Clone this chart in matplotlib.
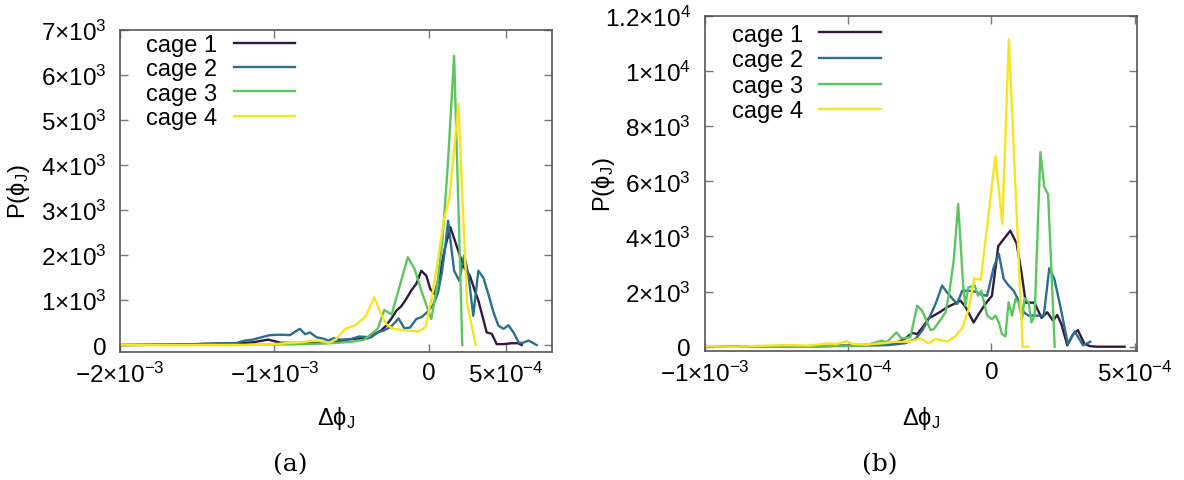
import numpy as np
import matplotlib.pyplot as plt

plt.rcParams['font.family'] = ['Liberation Sans', 'DejaVu Sans']
plt.rcParams['mathtext.fontset'] = 'custom'
plt.rcParams['mathtext.rm'] = 'Liberation Sans'
plt.rcParams['mathtext.it'] = 'Liberation Sans:italic'

# x in units of 1e-4, P in units of 1e3
# ---- panel (a) ----
c1a_x = [-20, -17, -15, -13, -11.4, -10.4, -9.6, -7.9, -6.3, -5.3, -4.4, -3.96, -3.52, -3.09, -2.76,
         -2.43, -2.1, -1.78, -1.46, -1.13, -0.8, -0.48, -0.15, 0.11, 0.39, 0.72, 1.04, 1.4, 1.7, 2.02,
         2.35, 2.67, 2.96, 3.22, 3.48, 3.76, 4.09, 4.41, 4.85, 5.39, 5.8, 6.03]
c1a_y = [0.0, 0.01, 0.02, 0.03, 0.06, 0.12, 0.05, 0.04, 0.05, 0.12, 0.15, 0.15, 0.24, 0.32, 0.43,
         0.58, 0.76, 0.86, 1.02, 1.21, 1.36, 1.65, 1.54, 1.24, 1.13, 1.58, 2.13, 2.62, 2.32, 1.99,
         1.69, 1.54, 1.24, 0.99, 0.65, 0.28, 0.25, 0.02, 0.02, 0.04, 0.04, 0.0]

c2a_x = [-20, -16, -13.6, -12.5, -11.9, -11.4, -10.85, -10.3, -9.65, -9.0, -8.35, -8.0, -7.7, -7.25,
         -6.8, -6.5, -6.17, -5.73, -5.08, -4.5, -3.74, -3.3, -2.87, -2.43, -1.95, -1.57, -1.2, -0.8,
         -0.45, -0.04, 0.3, 0.6, 0.85, 1.05, 1.26, 1.65, 1.98, 2.3, 2.57, 2.89, 3.22, 3.54, 3.87, 4.2,
         4.52, 4.85, 5.17, 5.5, 5.83, 6.03, 6.47, 7.0]
c2a_y = [0.0, 0.01, 0.04, 0.04, 0.1, 0.12, 0.17, 0.22, 0.23, 0.22, 0.36, 0.24, 0.28, 0.17,
         0.14, 0.1, 0.15, 0.12, 0.13, 0.19, 0.17, 0.28, 0.33, 0.41, 0.59, 0.37, 0.39, 0.58,
         0.62, 0.75, 0.9, 1.15, 1.6, 2.1, 2.76, 1.65, 1.43, 1.99, 1.58, 0.65, 1.65, 1.5, 1.13, 0.73,
         0.43, 0.36, 0.44, 0.28, 0.06, 0.04, 0.1, 0.0]

c3a_x = [-20, -16, -13, -10, -8, -6.35, -5.04, -4.17, -3.74, -3.3, -2.88, -2.4, -1.35, -0.91,
         -0.48, -0.1, 0.17, 0.55, 0.9, 1.24, 1.65, 2.18]
c3a_y = [0.0, 0.0, 0.0, 0.01, 0.02, 0.04, 0.07, 0.12, 0.24, 0.36, 0.78, 0.68, 1.95, 1.69,
         1.21, 0.84, 0.58, 1.32, 2.36, 3.99, 6.43, 0.0]

c4a_x = [-20, -15, -12, -10.3, -9.3, -8.3, -7.25, -6.4, -6.0, -5.4, -4.8, -4.07, -3.52, -3.09,
         -2.76, -2.33, -1.78, -1.24, -0.7, -0.22, 0.17, 0.61, 1.0, 1.35, 1.93, 2.48, 3.05]
c4a_y = [0.0, 0.0, 0.0, 0.01, 0.04, 0.06, 0.1, 0.05, 0.13, 0.36, 0.43, 0.64, 1.06, 0.69,
         0.47, 0.36, 0.34, 0.32, 0.3, 0.39, 0.99, 1.91, 2.8, 3.26, 5.36, 0.95, 0.0]

# ---- panel (b) ----
c1b_x = [-10, -8, -6, -5, -4.51, -3.81, -3.35, -3.0, -2.77, -2.59, -2.36, -2.19, -2.01, -1.78,
         -1.55, -1.31, -1.08, -0.91, -0.62, -0.44, -0.21, 0.02, 0.24, 0.66, 0.88, 1.05, 1.2, 1.5,
         1.75, 1.95, 2.15, 2.3, 2.45, 2.65, 2.85, 3.02, 3.25, 3.45, 3.7, 4.65]
c1b_y = [0.0, 0.01, 0.02, 0.05, 0.06, 0.1, 0.13, 0.3, 0.5, 0.46, 0.76, 1.03, 1.13, 1.27,
         1.43, 1.55, 1.67, 1.46, 0.88, 1.19, 1.55, 1.85, 3.65, 4.21, 3.75, 2.7, 1.6, 1.6,
         1.05, 1.25, 0.95, 1.15, 0.8, 0.05, 0.45, 0.6, 0.1, 0.02, 0.0, 0.0]

c2b_x = [-10, -8, -6, -5, -4.51, -3.58, -3.0, -2.65, -2.42, -2.19, -1.95, -1.72, -1.55, -1.37,
         -1.2, -1.02, -0.79, -0.56, -0.33, -0.15, 0.08, 0.26, 0.43, 0.6, 0.78, 0.95, 1.13, 1.3,
         1.53, 1.83, 2.02, 2.2, 2.4, 2.67, 2.91, 3.2, 3.45]
c2b_y = [0.0, 0.01, 0.02, 0.03, 0.04, 0.06, 0.13, 0.28, 0.58, 1.0, 1.55, 2.22, 1.97, 1.76,
         1.55, 2.03, 2.03, 2.0, 1.88, 1.85, 2.88, 3.37, 2.46, 2.22, 2.03, 1.67, 1.25, 1.13,
         1.13, 1.13, 2.85, 2.45, 1.5, 0.1, 0.55, 0.05, 0.18]

c3b_x = [-10, -8, -6.16, -5.3, -4.42, -3.84, -3.66, -3.31, -3.14, -2.83, -2.59, -2.42, -2.24,
         -2.12, -2.01, -1.84, -1.6, -1.47, -1.31, -1.16, -0.99, -0.91, -0.81, -0.58, -0.47, -0.35,
         -0.15, 0.02, 0.14, 0.26, 0.37, 0.49, 0.6, 0.72, 0.84, 0.95, 1.07, 1.16, 1.3, 1.4, 1.51,
         1.71, 1.85, 1.98, 2.21]
c3b_y = [0.0, 0.0, 0.0, 0.04, 0.04, 0.22, 0.16, 0.52, 0.3, 0.34, 1.49, 1.31, 0.88,
         0.6, 0.64, 0.88, 1.25, 1.97, 3.18, 5.18, 2.28, 1.49, 2.15, 2.22, 1.85, 2.03,
         1.13, 1.0, 1.13, 0.88, 0.46, 0.38, 1.61, 1.13, 1.73, 1.61, 1.0, 1.76, 1.61, 0.88, 1.13,
         7.06, 5.78, 5.52, 0.0]

c4b_x = [-10, -9, -7.2, -6.4, -5.7, -5.4, -5.05, -4.85, -4.37, -3.83, -3.55, -3.35, -2.88, -2.47,
         -2.2, -1.95, -1.55, -1.26, -1.02, -0.79, -0.6, -0.37, 0.14, 0.38, 0.61, 1.09, 1.3]
c4b_y = [0.02, 0.0, 0.06, 0.04, 0.12, 0.1, 0.2, 0.1, 0.08, 0.12, 0.15, 0.18, 0.18, 0.3,
         0.12, 0.28, 0.19, 0.38, 0.67, 1.37, 2.48, 2.43, 6.91, 4.45, 11.15, 0.0, 0.0]

labels = ['cage 1', 'cage 2', 'cage 3', 'cage 4']
colors = ['#32193f', '#2b6f8e', '#5cc65e', '#f9e31f']

xt_a = [-2e-3, -1e-3, 0, 5e-4]
xt_a_lab = ['\u22122\u00d710$^{-3}$', '\u22121\u00d710$^{-3}$', '0', '5\u00d710$^{-4}$']
yt_a = [0, 1e3, 2e3, 3e3, 4e3, 5e3, 6e3, 7e3]
yt_a_lab = ['0'] + ['%d\u00d710$^{3}$' % k for k in range(1, 8)]

xt_b = [-1e-3, -5e-4, 0, 5e-4]
xt_b_lab = ['\u22121\u00d710$^{-3}$', '\u22125\u00d710$^{-4}$', '0', '5\u00d710$^{-4}$']
yt_b = [0, 2e3, 4e3, 6e3, 8e3, 1e4, 1.2e4]
yt_b_lab = ['0', '2\u00d710$^{3}$', '4\u00d710$^{3}$', '6\u00d710$^{3}$', '8\u00d710$^{3}$',
            '1\u00d710$^{4}$', '1.2\u00d710$^{4}$']

TICK_FS = 17.5
LEG_FS = 17
LAB_FS = 17

fig = plt.figure(figsize=(11.84, 4.81), dpi=100)
ax_a = fig.add_axes([0.1014, 0.2661, 0.3649, 0.6694])
ax_b = fig.add_axes([0.5954, 0.2682, 0.3653, 0.6965])


def draw_panel(ax, series, xt, xt_lab, yt, yt_lab, xlim, ylim, leg_xy, leg_sp, xlab_y):
    for (xs, ys), lab, col in zip(series, labels, colors):
        ax.plot(np.array(xs) * 1e-4, np.array(ys) * 1e3, color=col, lw=1.7, label=lab)
    ax.set_xlim(*xlim)
    ax.set_ylim(*ylim)
    ax.set_xticks(xt)
    ax.set_xticklabels(xt_lab)
    ax.set_yticks(yt)
    ax.set_yticklabels(yt_lab)
    ax.tick_params(direction='in', top=True, right=True, length=6, width=1,
                   color='#777777', labelsize=TICK_FS)
    ax.tick_params(axis='y', pad=10)
    ax.tick_params(axis='x', pad=7)
    for s in ax.spines.values():
        s.set_color('#555555')
        s.set_linewidth(1.2)
    ax.set_xlabel('\u0394\u03d5$_{\\mathrm{J}}$', fontsize=LAB_FS)
    ax.xaxis.set_label_coords(0.5, xlab_y)
    ax.xaxis.label.set_va('top')
    ax.set_ylabel('P(\u03d5$_{\\mathrm{J}}$)', fontsize=LAB_FS)
    ax.yaxis.set_label_coords(-0.204, 0.5)
    ax.legend(loc='upper left', bbox_to_anchor=leg_xy, frameon=False, markerfirst=False,
              fontsize=LEG_FS, handlelength=2.6, handletextpad=0.7, labelspacing=leg_sp,
              borderpad=0, borderaxespad=0)


draw_panel(ax_a, [(c1a_x, c1a_y), (c2a_x, c2a_y), (c3a_x, c3a_y), (c4a_x, c4a_y)],
           xt_a, xt_a_lab, yt_a, yt_a_lab, (-2e-3, 8e-4), (-155, 7000),
           (0.06, 0.988), 0.1, -0.161)
draw_panel(ax_b, [(c1b_x, c1b_y), (c2b_x, c2b_y), (c3b_x, c3b_y), (c4b_x, c4b_y)],
           xt_b, xt_b_lab, yt_b, yt_b_lab, (-1e-3, 5.1e-4), (-155, 12000),
           (0.062, 0.977), 0.15, -0.158)

fig.text(290.7 / 1184, 1 - 465 / 481, '(a)', family='DejaVu Serif', fontsize=18,
         ha='center', va='center')
fig.text(880 / 1184, 1 - 465 / 481, '(b)', family='DejaVu Serif', fontsize=18,
         ha='center', va='center')

fig.savefig('out.png', dpi=100)
